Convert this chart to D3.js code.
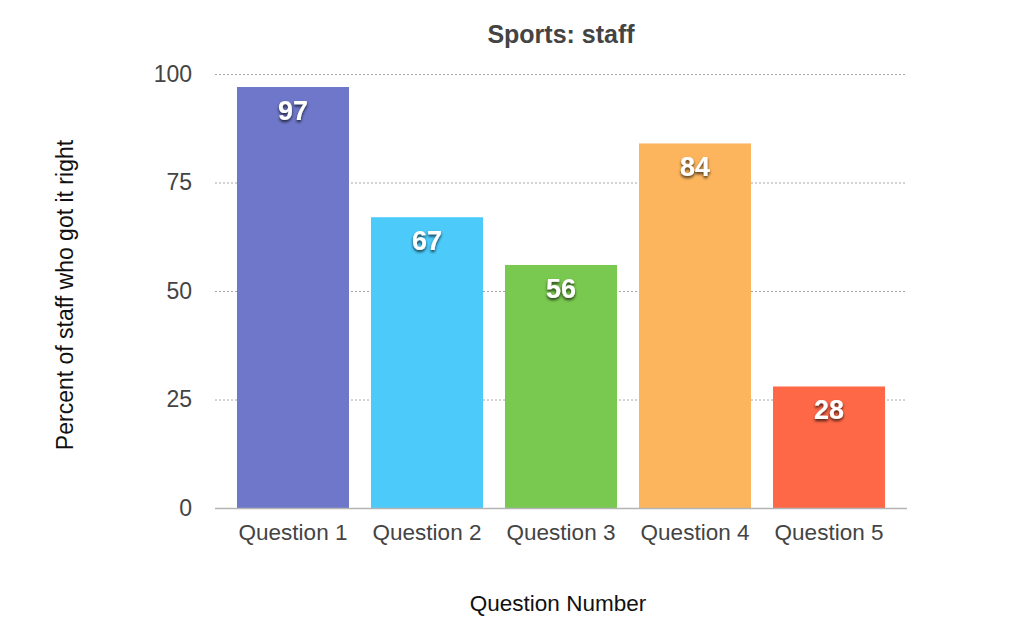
<!DOCTYPE html>
<html>
<head>
<meta charset="utf-8">
<script src="https://cdn.jsdelivr.net/npm/d3@7"></script>
<style>
  body { margin: 0; background: #fff; }
  text { font-family: "Helvetica Neue", "Liberation Sans", Arial, sans-serif; }
</style>
</head>
<body>
<div id="chart"></div>
<script>
/* DATA */
const questions = ["Question 1", "Question 2", "Question 3", "Question 4", "Question 5"];
const percents = [97, 67, 56, 84, 28];
const barColors = ["#6e77c9", "#4ccbfb", "#79c84f", "#fdb55d", "#fe6847"];
const yTicks = [0, 25, 50, 75, 100];

/* CONSTANTS */
const width = 1024,
  height = 623,
  margin = { top: 74, bottom: 115, left: 215, right: 117 };

const svg = d3.select("#chart")
  .append("svg")
  .attr("width", width)
  .attr("height", height);

const defs = svg.append("defs");
const shadow = defs.append("filter").attr("id", "shadow")
  .attr("x", "-30%").attr("y", "-30%").attr("width", "160%").attr("height", "160%");
shadow.append("feDropShadow")
  .attr("dx", 0).attr("dy", 2).attr("stdDeviation", 1.6)
  .attr("flood-color", "#000").attr("flood-opacity", 0.75);

// SCALES
const xScale = d3.scaleBand()
  .domain(questions)
  .range([margin.left, width - margin.right])
  .paddingInner(0.164)
  .paddingOuter(0.164);

const yScale = d3.scaleLinear()
  .domain([0, 100])
  .range([height - margin.bottom, margin.top]);

// GRIDLINES
svg.append("g")
  .selectAll("line")
  .data(yTicks.filter(d => d > 0))
  .join("line")
  .attr("x1", margin.left)
  .attr("x2", width - margin.right)
  .attr("y1", d => yScale(d) + 0.5)
  .attr("y2", d => yScale(d) + 0.5)
  .attr("stroke", "#a8a8a8")
  .attr("stroke-width", 1)
  .attr("stroke-dasharray", "2,2");

// BARS
svg.append("g")
  .selectAll("rect")
  .data(percents)
  .join("rect")
  .attr("x", (d, i) => xScale(questions[i]))
  .attr("y", d => yScale(d))
  .attr("width", xScale.bandwidth())
  .attr("height", d => yScale(0) - yScale(d))
  .attr("fill", (d, i) => barColors[i]);

// BASELINE
svg.append("line")
  .attr("x1", margin.left)
  .attr("x2", width - margin.right)
  .attr("y1", yScale(0) + 0.5)
  .attr("y2", yScale(0) + 0.5)
  .attr("stroke", "#b4b4b4")
  .attr("stroke-width", 1.5);

// VALUE LABELS
svg.append("g")
  .selectAll("text")
  .data(percents)
  .join("text")
  .attr("x", (d, i) => xScale(questions[i]) + xScale.bandwidth() / 2)
  .attr("y", d => yScale(d) + 33)
  .attr("text-anchor", "middle")
  .attr("fill", "#fff")
  .attr("font-size", 27)
  .attr("font-weight", "bold")
  .attr("filter", "url(#shadow)")
  .text(d => d);

// AXES
const yAxis = d3.axisLeft(yScale).tickValues(yTicks).tickSize(0).tickPadding(23);
svg.append("g")
  .attr("transform", `translate(${margin.left}, 0)`)
  .call(yAxis)
  .call(g => g.select(".domain").remove())
  .selectAll("text")
  .attr("font-size", 23)
  .attr("fill", "#444");

const xAxis = d3.axisBottom(xScale).tickSize(0).tickPadding(16);
svg.append("g")
  .attr("transform", `translate(0, ${yScale(0)})`)
  .call(xAxis)
  .call(g => g.select(".domain").remove())
  .selectAll("text")
  .attr("font-size", 22.5)
  .attr("fill", "#444");

// TITLES
svg.append("text")
  .attr("x", 561)
  .attr("y", 43)
  .attr("text-anchor", "middle")
  .attr("font-size", 25)
  .attr("font-weight", "bold")
  .attr("fill", "#444")
  .text("Sports: staff");

svg.append("text")
  .attr("x", 558)
  .attr("y", 611)
  .attr("text-anchor", "middle")
  .attr("font-size", 22.5)
  .attr("fill", "#111")
  .text("Question Number");

svg.append("text")
  .attr("transform", `translate(73, 295) rotate(-90)`)
  .attr("text-anchor", "middle")
  .attr("font-size", 23)
  .attr("fill", "#111")
  .text("Percent of staff who got it right");
</script>
</body>
</html>
